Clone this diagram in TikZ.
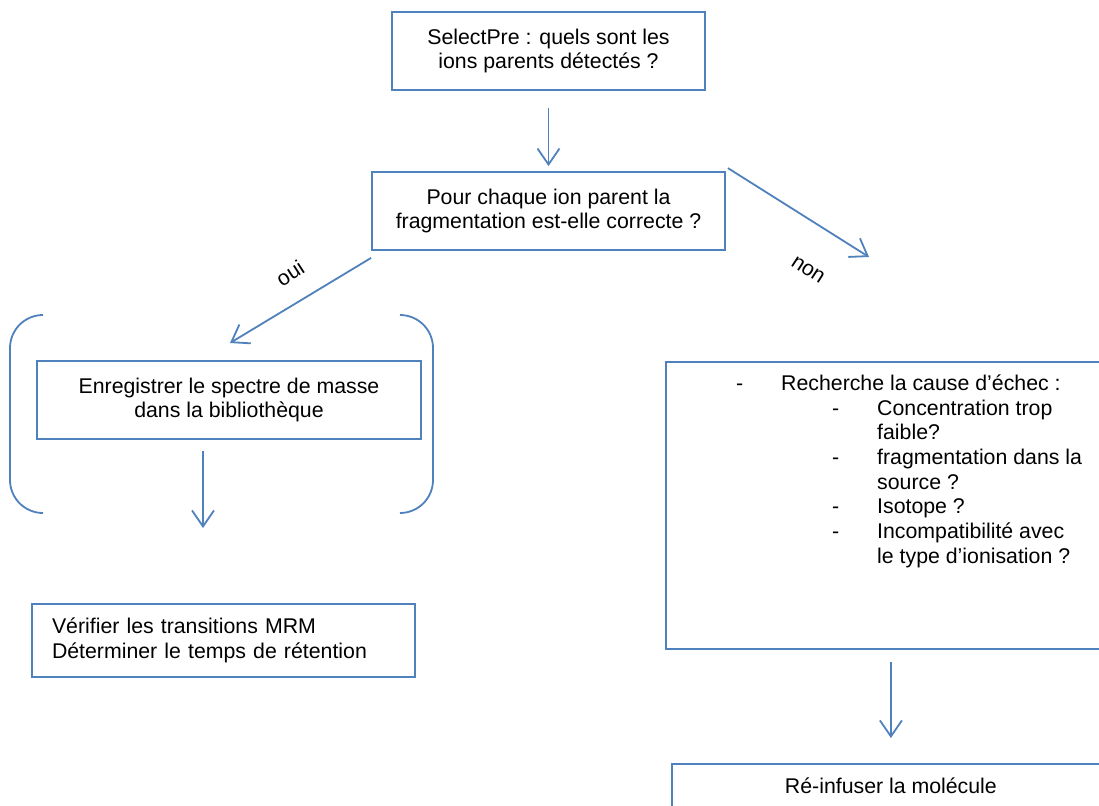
\documentclass[tikz,border=0pt]{standalone}
\usepackage{fontspec}
\setmainfont{Liberation Sans}
\usetikzlibrary{arrows.meta,calc}
\definecolor{lineblue}{HTML}{4F81BD}
\begin{document}
\begin{tikzpicture}[x=1pt,y=-1pt,
  every node/.style={font=\fontsize{21.3}{24.7}\selectfont, text=black},
  box/.style={draw=lineblue, line width=1.8pt, rectangle, align=center, inner sep=0pt},
  arr/.style={draw=lineblue, line width=1.8pt, -{Straight Barb[length=16pt,width=22pt,line width=1.8pt]}},
  brk/.style={draw=lineblue, line width=1.8pt, rounded corners=33pt}]
\clip (0,0) rectangle (1099,805);
\fill[white] (0,0) rectangle (1099,805);

\node[box, minimum width=313, minimum height=78] (box1) at (548.5,51)
  {SelectPre : quels sont les\\ions parents détectés ?};
\node[box, minimum width=353, minimum height=78] (box2) at (548.5,211)
  {Pour chaque ion parent la\\fragmentation est-elle correcte ?};
\node[box, minimum width=384, minimum height=78] (box3) at (229,400)
  {Enregistrer le spectre de masse\\dans la bibliothèque};
\node[box, text width=343, inner xsep=20pt, align=left, minimum height=73] (box4) at (223.5,640.5)
  {Vérifier les transitions MRM\\Déterminer le temps de rétention};
\node[box, anchor=north west, minimum width=450, minimum height=287] (box5) at (665,361) {};
\node[anchor=north west, inner sep=0pt] (reasons) at (736,373) {%
  \begin{tabular}{@{}p{45pt}@{}p{51pt}@{}p{45pt}@{}l@{}}
  - & \multicolumn{3}{@{}l@{}}{Recherche la cause d’échec :}\\
   & & - & Concentration trop\\
   & & & faible?\\
   & & - & fragmentation dans la\\
   & & & source ?\\
   & & - & Isotope ?\\
   & & - & Incompatibilité avec\\
   & & & le type d’ionisation ?
  \end{tabular}};
\node[box, anchor=north west, minimum width=438, minimum height=44] (box6) at (671,763)
  {Ré-infuser la molécule};

% connectors
\draw[arr, shorten <=17pt, shorten >=5pt] (box1) -- (box2);
\coordinate (nonEnd) at (869,257);
\draw[arr] ($(box2.north east)+(2,-3)$) -- (nonEnd);
\coordinate (ouiEnd) at (230,343);
\draw[arr] ($(box2.south west)+(0,7)$) -- (ouiEnd);
\coordinate (vEnd) at (203,528);
\draw[arr] ($(box3.south)+(-26,11)$) -- (vEnd);
\draw[arr, shorten <=12pt, shorten >=25pt] (box5.south) -- (box6.north);

% labels
\node[rotate=33] (oui) at (290,273) {oui};
\node[rotate=-33] (non) at (808,270) {non};

% brackets
\draw[brk] (43,315) -- (10,315) -- (10,513) -- (43,513);
\draw[brk] (400,315) -- (433,315) -- (433,513) -- (400,513);
\end{tikzpicture}
\end{document}
